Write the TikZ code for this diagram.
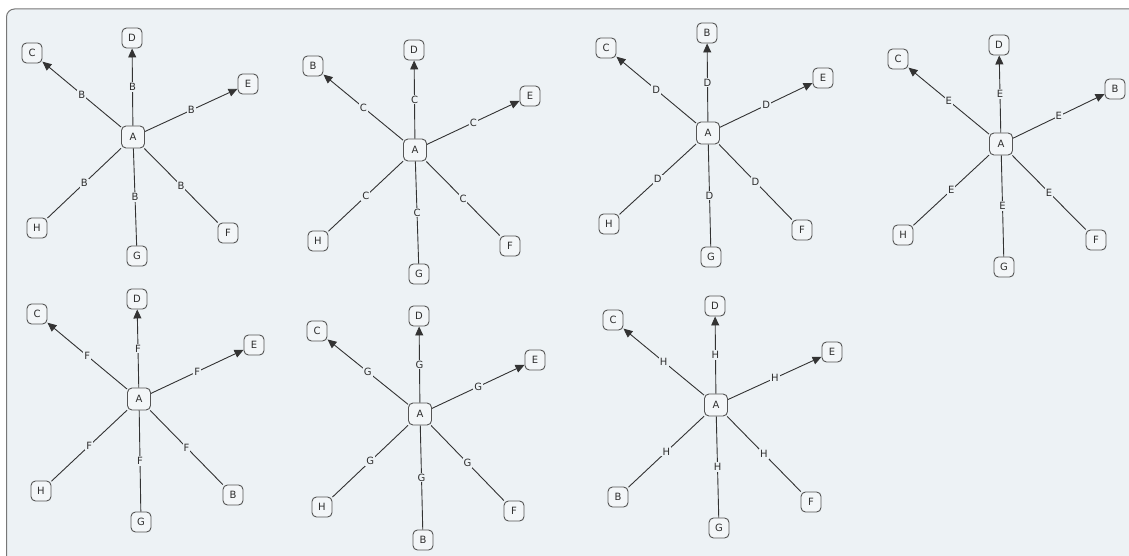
\documentclass[tikz,border=0pt]{standalone}
\usepackage{fontspec}
\setmainfont{DejaVu Sans}
\usetikzlibrary{arrows.meta}
\definecolor{bgpanel}{HTML}{EDF2F5}
\definecolor{nodefill}{HTML}{F3F6F8}
\definecolor{edgecol}{HTML}{333333}
\definecolor{bordercol}{HTML}{555555}
\definecolor{panelborder}{HTML}{777777}
\definecolor{txtcol}{HTML}{2E2E2E}
\begin{document}
\begin{tikzpicture}[x=1pt,y=-1pt,
  leaf/.style={draw=bordercol, fill=nodefill, rounded corners=4.5pt, minimum width=20pt,
    minimum height=20pt, inner sep=0pt, line width=0.9pt, text=txtcol,
    font=\fontsize{10}{11}\selectfont},
  hub/.style={leaf, minimum width=23pt, minimum height=22pt},
  elabel/.style={fill=bgpanel, inner sep=1pt, text=txtcol, font=\fontsize{10}{11}\selectfont},
  link/.style={draw=edgecol, line width=0.9pt},
  arrlink/.style={link, -{Triangle[length=9pt,width=8pt]}}]
\useasboundingbox (0,0) rectangle (1129,556);
\fill[white] (0,0) rectangle (1129,556);
\begin{scope}
\clip (0,0) rectangle (1129,556);
\path[fill=bgpanel, draw=panelborder, line width=1pt, rounded corners=8pt] (6.5,9) rectangle (1160,600);
\end{scope}

% Star 1
\node[hub] (s1A) at (133,137) {A};
\node[leaf] (s1C) at (32,53) {C};
\node[leaf] (s1D) at (132,38) {D};
\node[leaf] (s1E) at (248,84) {E};
\node[leaf] (s1H) at (37,228) {H};
\node[leaf] (s1G) at (137,256) {G};
\node[leaf] (s1F) at (228,233) {F};
\draw[arrlink] (s1A) -- node[elabel]{B} (s1C);
\draw[arrlink] (s1A) -- node[elabel]{B} (s1D);
\draw[arrlink] (s1A) -- node[elabel]{B} (s1E);
\draw[link] (s1A) -- node[elabel]{B} (s1H);
\draw[link] (s1A) -- node[elabel]{B} (s1G);
\draw[link] (s1A) -- node[elabel]{B} (s1F);

% Star 2
\node[hub] (s2A) at (415,150) {A};
\node[leaf] (s2B) at (313,66) {B};
\node[leaf] (s2D) at (414,50) {D};
\node[leaf] (s2E) at (530,96) {E};
\node[leaf] (s2H) at (318,241) {H};
\node[leaf] (s2G) at (419,274) {G};
\node[leaf] (s2F) at (510,246) {F};
\draw[arrlink] (s2A) -- node[elabel]{C} (s2B);
\draw[arrlink] (s2A) -- node[elabel]{C} (s2D);
\draw[arrlink] (s2A) -- node[elabel]{C} (s2E);
\draw[link] (s2A) -- node[elabel]{C} (s2H);
\draw[link] (s2A) -- node[elabel]{C} (s2G);
\draw[link] (s2A) -- node[elabel]{C} (s2F);

% Star 3
\node[hub] (s3A) at (708,133) {A};
\node[leaf] (s3C) at (606,48) {C};
\node[leaf] (s3B) at (707,33) {B};
\node[leaf] (s3E) at (823,78) {E};
\node[leaf] (s3H) at (609,224) {H};
\node[leaf] (s3G) at (711,257) {G};
\node[leaf] (s3F) at (802,230) {F};
\draw[arrlink] (s3A) -- node[elabel]{D} (s3C);
\draw[arrlink] (s3A) -- node[elabel]{D} (s3B);
\draw[arrlink] (s3A) -- node[elabel]{D} (s3E);
\draw[link] (s3A) -- node[elabel]{D} (s3H);
\draw[link] (s3A) -- node[elabel]{D} (s3G);
\draw[link] (s3A) -- node[elabel]{D} (s3F);

% Star 4
\node[hub] (s4A) at (1001,144) {A};
\node[leaf] (s4C) at (898,59) {C};
\node[leaf] (s4D) at (999,45) {D};
\node[leaf] (s4B) at (1115,89) {B};
\node[leaf] (s4H) at (903,235) {H};
\node[leaf] (s4G) at (1004,267) {G};
\node[leaf] (s4F) at (1096,240) {F};
\draw[arrlink] (s4A) -- node[elabel]{E} (s4C);
\draw[arrlink] (s4A) -- node[elabel]{E} (s4D);
\draw[arrlink] (s4A) -- node[elabel]{E} (s4B);
\draw[link] (s4A) -- node[elabel]{E} (s4H);
\draw[link] (s4A) -- node[elabel]{E} (s4G);
\draw[link] (s4A) -- node[elabel]{E} (s4F);

% Star 5
\node[hub] (s5A) at (139,399) {A};
\node[leaf] (s5C) at (37,314) {C};
\node[leaf] (s5D) at (137,299) {D};
\node[leaf] (s5E) at (254,345) {E};
\node[leaf] (s5H) at (41,491) {H};
\node[leaf] (s5G) at (141,522) {G};
\node[leaf] (s5B) at (233,495) {B};
\draw[arrlink] (s5A) -- node[elabel]{F} (s5C);
\draw[arrlink] (s5A) -- node[elabel]{F} (s5D);
\draw[arrlink] (s5A) -- node[elabel]{F} (s5E);
\draw[link] (s5A) -- node[elabel]{F} (s5H);
\draw[link] (s5A) -- node[elabel]{F} (s5G);
\draw[link] (s5A) -- node[elabel]{F} (s5B);

% Star 6
\node[hub] (s6A) at (420,414) {A};
\node[leaf] (s6C) at (317,331) {C};
\node[leaf] (s6D) at (419,316) {D};
\node[leaf] (s6E) at (535,360) {E};
\node[leaf] (s6H) at (322,507) {H};
\node[leaf] (s6B) at (423,540) {B};
\node[leaf] (s6F) at (514,511) {F};
\draw[arrlink] (s6A) -- node[elabel]{G} (s6C);
\draw[arrlink] (s6A) -- node[elabel]{G} (s6D);
\draw[arrlink] (s6A) -- node[elabel]{G} (s6E);
\draw[link] (s6A) -- node[elabel]{G} (s6H);
\draw[link] (s6A) -- node[elabel]{G} (s6B);
\draw[link] (s6A) -- node[elabel]{G} (s6F);

% Star 7
\node[hub] (s7A) at (716,405) {A};
\node[leaf] (s7C) at (613,320) {C};
\node[leaf] (s7D) at (715,306) {D};
\node[leaf] (s7E) at (832,352) {E};
\node[leaf] (s7B) at (618,497) {B};
\node[leaf] (s7G) at (719,528) {G};
\node[leaf] (s7F) at (811,502) {F};
\draw[arrlink] (s7A) -- node[elabel]{H} (s7C);
\draw[arrlink] (s7A) -- node[elabel]{H} (s7D);
\draw[arrlink] (s7A) -- node[elabel]{H} (s7E);
\draw[link] (s7A) -- node[elabel]{H} (s7B);
\draw[link] (s7A) -- node[elabel]{H} (s7G);
\draw[link] (s7A) -- node[elabel]{H} (s7F);
\end{tikzpicture}
\end{document}
